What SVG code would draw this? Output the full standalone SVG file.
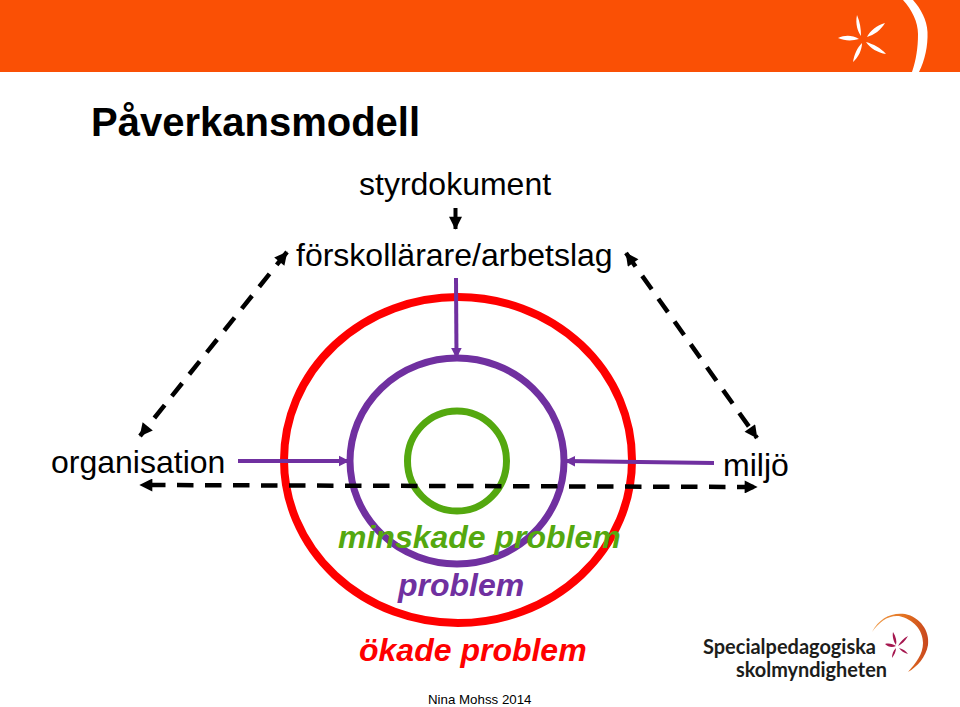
<svg xmlns="http://www.w3.org/2000/svg" width="960" height="707" viewBox="0 0 960 707">
<style>
text{font-family:"Liberation Sans",Arial,sans-serif;fill:#000}
.lbl{font-size:32px}
.it{font-size:32px;font-weight:bold;font-style:italic}
.ring{fill:none}
.dash{stroke:#000;stroke-width:4.500;stroke-dasharray:16.500 11.500;fill:none}
.pur{stroke:#7030a0;stroke-width:4;fill:none}
.logo{font-family:Lato,"Open Sans",sans-serif;font-size:21px;font-weight:700;fill:#1d1d1b}
</style>
<defs>
<marker id="ab" viewBox="0 0 10 10" refX="9.500" refY="5" markerWidth="14" markerHeight="13" markerUnits="userSpaceOnUse" orient="auto-start-reverse"><path d="M0 0L10 5L0 10Z" fill="#000"/></marker>
<marker id="ap" viewBox="0 0 10 10" refX="9.500" refY="5" markerWidth="11" markerHeight="12" markerUnits="userSpaceOnUse" orient="auto"><path d="M0 0L10 5L0 10Z" fill="#7030a0"/></marker>
<linearGradient id="arc" x1="0" y1="0" x2="1" y2="0"><stop offset="0" stop-color="#f0a050"/><stop offset="0.6" stop-color="#e2701f"/><stop offset="1" stop-color="#c8461e"/></linearGradient>
</defs>
<g id="banner"><rect width="960" height="72" fill="#fa5005"/>
<path d="M903 0C912 10 918 22 918 34C918 48 916 60 912 72L919 72C925 60 928 46 927.500 32C927 20 921 9 913 0Z" fill="#fff"/>
<path d="M857 15C860 22 861 29 861 36C858 32 855 24 857 15ZM885 23C881 30 874 35 867 37C870 31 877 25 885 23ZM838 38C845 35 852 35 859 39C852 41 845 41 838 38ZM866 42C873 44 881 48 886 54C878 53 870 48 866 42ZM862 43C862 50 858 58 853 62C854 55 857 48 862 43Z" fill="#fff"/></g>
<g id="title"><text x="91" y="136" font-size="40" font-weight="bold">Påverkansmodell</text></g>
<g id="rings">
<ellipse id="ring-red" class="ring" cx="458" cy="460" rx="174" ry="163" stroke="#fe0000" stroke-width="8"/>
<ellipse id="ring-purple" class="ring" cx="457" cy="461" rx="107" ry="103" stroke="#7030a0" stroke-width="7"/>
<ellipse id="ring-green" class="ring" cx="457" cy="461" rx="49.500" ry="50" stroke="#54a80f" stroke-width="7"/>
</g>
<g id="connectors">
<line x1="455.500" y1="208" x2="455.500" y2="229" stroke="#000" stroke-width="4" marker-end="url(#ab)"/>
<line class="pur" x1="456" y1="278" x2="456.500" y2="358" marker-end="url(#ap)"/>
<line class="pur" x1="238" y1="461" x2="349" y2="461" marker-end="url(#ap)"/>
<line class="pur" x1="714" y1="463" x2="565" y2="461" marker-end="url(#ap)"/>
<line class="dash" x1="287" y1="252" x2="140" y2="436" marker-start="url(#ab)" marker-end="url(#ab)"/>
<line class="dash" x1="626" y1="253" x2="757" y2="438" marker-start="url(#ab)" marker-end="url(#ab)"/>
<line class="dash" x1="140" y1="485" x2="757" y2="487" stroke-dashoffset="19" marker-start="url(#ab)" marker-end="url(#ab)"/>
</g>
<g id="labels">
<text class="lbl" x="359" y="195">styrdokument</text>
<text class="lbl" x="296" y="266">förskollärare/arbetslag</text>
<text class="lbl" x="51" y="473">organisation</text>
<text class="lbl" x="723" y="476">miljö</text>
<text class="it" x="338" y="548" style="fill:#54a80f">minskade problem</text>
<text class="it" x="398" y="596" style="fill:#7030a0">problem</text>
<text class="it" x="359" y="661" style="fill:#fe0000">ökade problem</text>
<text x="428" y="704" font-size="13.300">Nina Mohss 2014</text>
</g>
<g id="logo">
<text class="logo" x="703" y="654" textLength="173" lengthAdjust="spacingAndGlyphs">Specialpedagogiska</text>
<text class="logo" x="736" y="677" textLength="151" lengthAdjust="spacingAndGlyphs">skolmyndigheten</text>
<path d="M872 632C879 618 892 612 905 614C920 617 930 631 928 645C926 657 917 667 908 672C916 663 923 654 923 643C923 630 913 619 899 616C888 615 879 622 872 632Z" fill="url(#arc)"/>
<path d="M893 632C896 637 897 641 896 645C894 642 892 637 893 632ZM908 636C905 641 902 644 898 646C900 642 904 638 908 636ZM885 644C889 643 893 644 896 646C892 648 888 647 885 644ZM899 648C903 649 906 651 908 654C904 653 901 651 899 648ZM896 648C896 652 894 655 892 658C892 654 893 651 896 648Z" fill="#a5174f"/>
</g>
</svg>
